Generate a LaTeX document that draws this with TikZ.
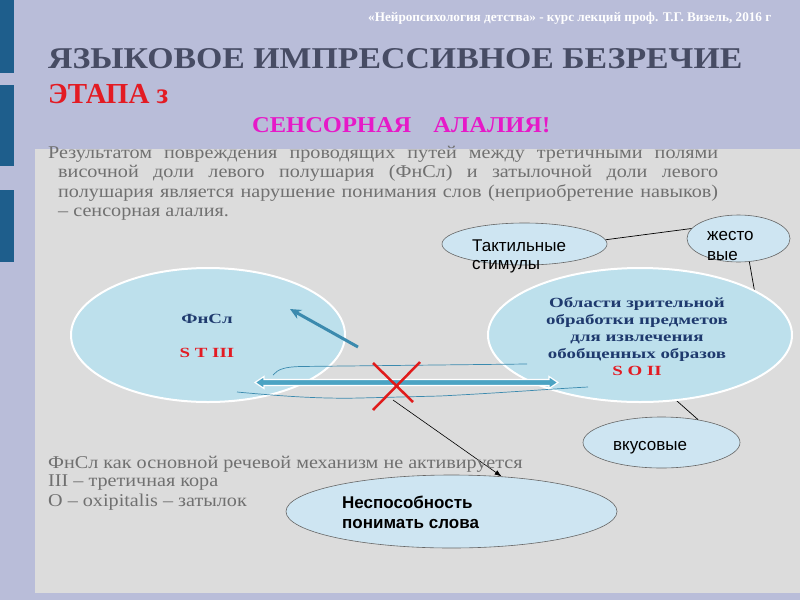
\documentclass[tikz,border=0pt]{standalone}
\usepackage{fontspec}
\setmainfont{Liberation Serif}
\newfontfamily\bodyfont[FakeStretch=1.12]{Liberation Serif}
\newfontfamily\ellfont[FakeStretch=1.35]{Liberation Serif}
\newfontfamily\arialfont{Liberation Sans}
\usetikzlibrary{shapes.geometric,arrows.meta}
\definecolor{lav}{HTML}{B9BDD9}
\definecolor{barc}{HTML}{1E5E8C}
\definecolor{panel}{HTML}{DCDCDC}
\definecolor{titlec}{HTML}{474C64}
\definecolor{redc}{HTML}{E31B23}
\definecolor{magc}{HTML}{E619C8}
\definecolor{bigfill}{HTML}{BDE0EC}
\definecolor{smallfill}{HTML}{CEE5F2}
\definecolor{navyc}{HTML}{1F3A6E}
\definecolor{arrteal}{HTML}{4BA3C3}
\definecolor{thinteal}{HTML}{3B8AAE}
\definecolor{bodygray}{HTML}{707070}
\definecolor{xred}{HTML}{E01B1B}
\tikzset{
  bigell/.style={ellipse, draw=white, line width=2pt, fill=bigfill, inner sep=0pt},
  smallell/.style={ellipse, draw=black!60, line width=0.6pt, fill=smallfill, inner sep=0pt},
  conn/.style={draw=black, line width=0.7pt},
  bodytxt/.style={anchor=base west, inner sep=0pt, text=bodygray, font=\bodyfont\fontsize{18}{18}\selectfont},
  elltxt/.style={anchor=base, inner sep=0pt, text=navyc, font=\ellfont\bfseries\fontsize{14}{14}\selectfont},
  ariatxt/.style={anchor=base west, inner sep=0pt, text=black, font=\arialfont\fontsize{17}{17}\selectfont},
  thinline/.style={draw=thinteal, line width=0.7pt},
}
\begin{document}
\begin{tikzpicture}[x=1pt,y=-1pt]
\useasboundingbox (0,0) rectangle (800,600);
\fill[lav] (0,0) rectangle (800,600);
\fill[barc] (0,0) rectangle (14,73);
\fill[barc] (0,85) rectangle (14,166);
\fill[barc] (0,190) rectangle (14,262);
\fill[panel] (35,149) rectangle (800,593);

% header
\node[anchor=base west, inner sep=0pt, text=white, font=\bfseries\fontsize{13.2}{13.2}\selectfont] (hdr) at (368,21) {«Нейропсихология детства» - курс лекций проф. Т.Г. Визель, 2016 г};

% titles
\node[anchor=base west, inner sep=0pt, text=titlec] (title) at (48,68) {\resizebox{694pt}{20pt}{\bfseries ЯЗЫКОВОЕ ИМПРЕССИВНОЕ БЕЗРЕЧИЕ}};
\node[anchor=base west, inner sep=0pt, text=redc, font=\bfseries\fontsize{29}{29}\selectfont] (etap) at (48,103) {ЭТАПА з};
\node[anchor=base west, inner sep=0pt, text=magc] (sens) at (252,132) {\resizebox{298pt}{15pt}{\bfseries СЕНСОРНАЯ\hspace{0.9em}АЛАЛИЯ!}};

% paragraph
\node[bodytxt] (p1) at (48,158) {\makebox[670pt][s]{Результатом повреждения проводящих путей между третичными полями}};
\node[bodytxt] (p2) at (58,177.5) {\makebox[660pt][s]{височной доли левого полушария (ФнСл) и затылочной доли левого}};
\node[bodytxt] (p3) at (58,197) {\makebox[660pt][s]{полушария является нарушение понимания слов (неприобретение навыков)}};
\node[bodytxt] (p4) at (58,216.5) {– сенсорная алалия.};

% hidden connector parts (behind big ellipse)
\coordinate (zj) at (757,305);
\coordinate (oblin) at (660,386);
\node[smallell, minimum width=103pt, minimum height=47pt] (zhest) at (738.5,238.5) {};
\node[smallell, minimum width=157pt, minimum height=51pt] (vkus) at (661.5,442.5) {};
\draw[conn] (zhest.-65) -- (zj);
\draw[conn] (oblin) -- (vkus.32);

% big ellipses
\node[bigell, minimum width=274pt, minimum height=134pt] (fn) at (208,335) {};
\node[bigell, minimum width=304pt, minimum height=134pt] (obl) at (640,335) {};

% small ellipses
\node[smallell, minimum width=165pt, minimum height=42pt] (tact) at (524.5,244) {};
\node[smallell, minimum width=331pt, minimum height=73pt] (nesp) at (451.5,511.5) {};
\draw[conn] (tact.3) -- (zhest.168);

% texts in ellipses
\node[elltxt] (fntxt) at (207,323) {ФнСл};
\node[elltxt, text=redc] (fnsub) at (207,357.5) {S T III};
\node[elltxt] (o1) at (637,307) {Области зрительной};
\node[elltxt] (o2) at (637,324) {обработки предметов};
\node[elltxt] (o3) at (637,341) {для извлечения};
\node[elltxt] (o4) at (637,358) {обобщенных образов};
\node[elltxt, text=redc] (o5) at (637,375) {S O II};

\node[ariatxt] (t1) at (472,251.5) {Тактильные};
\node[ariatxt] (t2) at (472,269) {стимулы};
\node[ariatxt] (z1) at (707,240) {жесто};
\node[ariatxt] (z2) at (707,260.5) {вые};
\node[ariatxt] (v1) at (613,450) {вкусовые};
\node[ariatxt, font=\arialfont\bfseries\fontsize{17}{17}\selectfont] (n1) at (342,508) {Неспособность};
\node[ariatxt, font=\arialfont\bfseries\fontsize{17}{17}\selectfont] (n2) at (342,528) {понимать слова};

% thin wavy lines
\draw[thinline] (273,375) .. controls (278,369) and (285,367) .. (300,366.5) -- (527,364);
\draw[thinline] (237,392) .. controls (280,396) and (320,399) .. (360,398) -- (440,396) .. controls (500,393) and (550,389) .. (588,387);

% double arrow
\draw[white, line width=1.2pt, fill=arrteal, line join=miter]
  (255,382.5) -- (264,376.5) -- (264,379.5) -- (549,379.5) -- (549,376.5) -- (558,382.5)
  -- (549,388.5) -- (549,385.5) -- (264,385.5) -- (264,388.5) -- cycle;

% diagonal teal arrow
\draw[draw=thinteal, line width=3pt, -{Stealth[length=11pt,width=10pt]}] (358,347) -- (290,309);

% red X
\coordinate (xc) at (396,385);
\draw[xred, line width=2.5pt] (373,363) -- (413,402);
\draw[xred, line width=2.5pt] (420,362) -- (373,410);

% arrow to Неспособность
\coordinate (xlow) at (393,400);
\draw[conn, line width=0.6pt, -{Latex[length=7pt,width=5pt]}] (xlow) -- (nesp.35);

% bottom text
\node[bodytxt] (b1) at (48,468) {ФнСл как основной речевой механизм не активируется};
\node[bodytxt] (b2) at (48,486.5) {III – третичная кора};
\node[bodytxt] (b3) at (48,506) {O – oxipitalis – затылок};
\end{tikzpicture}
\end{document}
